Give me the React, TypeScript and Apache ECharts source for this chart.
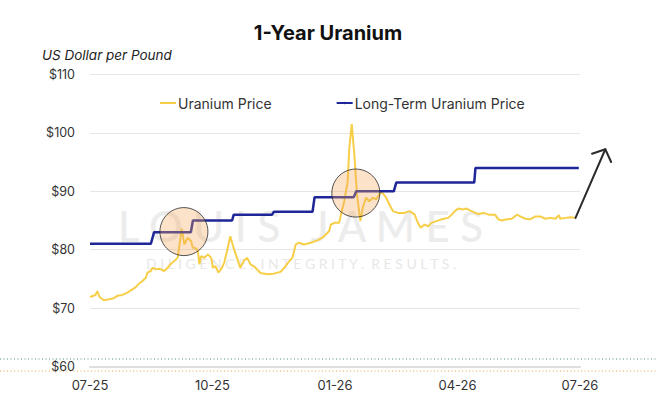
import React, { useEffect, useRef } from "react";
import * as echarts from "echarts";

// x values are months elapsed since the start of 07-25
const tickLabels = ["07-25", "10-25", "01-26", "04-26", "07-26"];

const spotMonths = [
  0, 0.135, 0.177, 0.234, 0.34, 0.463, 0.586, 0.67, 0.793, 0.916, 1.039, 1.12, 1.202, 1.286, 1.367, 1.409,
  1.49, 1.532, 1.613, 1.695, 1.818, 1.901, 1.983, 2.064, 2.148, 2.246, 2.31, 2.394, 2.475, 2.517, 2.6, 2.64,
  2.68, 2.72, 2.8, 2.887, 2.968, 3.01, 3.067, 3.148, 3.23, 3.288, 3.355, 3.436, 3.517, 3.6, 3.68, 3.764,
  3.847, 3.93, 4.01, 4.094, 4.175, 4.34, 4.5, 4.667, 4.79, 4.87, 4.956, 5.04, 5.118, 5.24, 5.406, 5.57,
  5.695, 5.776, 5.857, 5.9, 5.98, 6.1, 6.145, 6.227, 6.31, 6.35, 6.41, 6.473, 6.54, 6.62, 6.68, 6.76,
  6.84, 6.926, 7.007, 7.13, 7.254, 7.335, 7.42, 7.54, 7.7, 7.83, 7.95, 8.03, 8.1, 8.197, 8.28, 8.36,
  8.485, 8.61, 8.77, 8.855, 8.936, 9.02, 9.143, 9.22, 9.345, 9.43, 9.51, 9.635, 9.76, 9.92, 10.0, 10.086,
  10.21, 10.33, 10.456, 10.537, 10.66, 10.78, 10.906, 11.03, 11.15, 11.276, 11.4, 11.48, 11.52, 11.645, 11.77, 11.89,
];
const spotPrices = [
  71.9, 72.25, 72.9, 71.9, 71.35, 71.5, 71.7, 72.1, 72.25, 72.65, 73.2, 73.6, 74.2, 74.65, 75.2, 76.1,
  76.35, 76.9, 76.65, 76.75, 76.35, 76.9, 77.6, 78.05, 78.65, 83.6, 80.9, 82.05, 81.5, 80.35, 80.2, 79.8,
  77.5, 78.9, 78.6, 79.2, 78.6, 76.9, 77.2, 76.1, 76.9, 77.8, 79.75, 82.3, 80.3, 78.6, 76.9, 78.05,
  78.6, 77.5, 77.2, 76.6, 76.0, 75.8, 75.9, 76.2, 77.2, 77.95, 78.6, 80.9, 81.2, 80.9, 81.2, 81.6,
  82.05, 82.6, 83.2, 84.3, 84.6, 84.6, 86.0, 88.3, 91.7, 97.4, 101.5, 96.3, 89.4, 84.9, 87.2, 88.9,
  88.3, 88.9, 88.6, 90.0, 88.9, 87.7, 86.6, 86.3, 86.3, 86.6, 86.0, 84.6, 83.75, 84.3, 84.0, 84.6,
  84.9, 85.2, 85.45, 86.0, 86.6, 87.05, 86.9, 87.05, 86.6, 86.3, 86.1, 86.3, 86.0, 86.0, 85.2, 85.0,
  85.2, 85.3, 86.0, 85.7, 85.3, 85.2, 85.7, 85.7, 85.3, 85.45, 85.3, 85.9, 85.3, 85.45, 85.55, 85.45,
];

const termMonths = [0, 1.49, 1.57, 2.47, 2.52, 3.48, 3.52, 4.46, 4.5, 5.45, 5.5, 6.46, 6.52, 7.44, 7.5, 9.41, 9.44, 11.97];
const termPrices = [81, 81, 83, 83, 85, 85, 86, 86, 86.5, 86.5, 89, 89, 90, 90, 91.5, 91.5, 94, 94];

const highlightMonths = [2.3, 6.51];
const highlightPrices = [83.1, 89.7];

const arrowFrom = [11.89, 85.45];
const arrowTo = [12.62, 97.2];

const FONT = "Inter, 'Noto Sans', sans-serif";

export default function App() {
  const ref = useRef<HTMLDivElement>(null);

  useEffect(() => {
    document.body.style.margin = "0";
    if (!ref.current) return;
    const chart = echarts.init(ref.current, undefined, { renderer: "svg" });

    const spotData = spotMonths.map((m, i) => [m, spotPrices[i]]);
    const termData = termMonths.map((m, i) => [m, termPrices[i]]);
    const highlightData = highlightMonths.map((m, i) => [m, highlightPrices[i]]);

    chart.setOption({
      animation: false,
      backgroundColor: "#ffffff",
      textStyle: { fontFamily: FONT },
      title: {
        text: "1-Year Uranium",
        left: "center",
        top: 18,
        textStyle: { fontFamily: FONT, fontSize: 20, fontWeight: 700, color: "#111" },
      },
      legend: {
        data: ["Uranium Price", "Long-Term Uranium Price"],
        left: 154,
        top: 91,
        itemWidth: 16,
        itemHeight: 3,
        itemGap: 64,
        textStyle: { fontFamily: FONT, fontSize: 14, color: "#333", padding: [0, 0, 0, -3] },
      },
      grid: { left: 90, right: 76, top: 74.5, bottom: 50.5 },
      xAxis: {
        type: "value",
        min: 0,
        max: 12,
        interval: 3,
        axisLine: { show: true, lineStyle: { color: "#dedede", width: 2 } },
        axisTick: { show: false },
        splitLine: { show: false },
        axisLabel: {
          margin: 12,
          fontSize: 13,
          color: "#333",
          fontFamily: FONT,
          formatter: (v: number) => tickLabels[Math.round(v / 3)] ?? "",
        },
      },
      yAxis: {
        type: "value",
        min: 60,
        max: 110,
        interval: 10,
        axisLine: { show: false },
        axisTick: { show: false },
        splitLine: { lineStyle: { color: "#e6e6e6", width: 1 } },
        axisLabel: {
          margin: 15,
          fontSize: 12.5,
          color: "#333",
          fontFamily: FONT,
          formatter: (v: number) => "$" + v,
        },
      },
      graphic: [
        {
          type: "text",
          id: "wm1",
          left: 118,
          top: 205,
          z: -10,
          silent: true,
          style: {
            text: "L O U I S   J A M E S",
            fontFamily: "Lato, sans-serif",
            fontSize: 42,
            fontWeight: 500,
            fill: "#ececec",
          },
        },
        {
          type: "text",
          id: "wm2",
          left: 146,
          top: 256,
          z: -10,
          silent: true,
          style: {
            text: "D I L I G E N C E .  I N T E G R I T Y .  R E S U L T S .",
            fontFamily: "Lato, sans-serif",
            fontSize: 14,
            fill: "#e8e8e8",
          },
        },
        {
          type: "text",
          id: "yname",
          left: 42,
          top: 48,
          style: {
            text: "US Dollar per Pound",
            fontFamily: FONT,
            fontSize: 13.5,
            fontStyle: "italic",
            fill: "#222",
          },
        },
        {
          type: "line",
          id: "dot1",
          silent: true,
          shape: { x1: 0, y1: 359, x2: 656, y2: 359 },
          style: { stroke: "#4c8f86", lineWidth: 1, lineDash: [1, 2.5] },
        },
        {
          type: "line",
          id: "dot2",
          silent: true,
          shape: { x1: 0, y1: 371, x2: 656, y2: 371 },
          style: { stroke: "#e2a650", lineWidth: 1, lineDash: [1, 2.5] },
        },
      ],
      series: [
        {
          name: "Uranium Price",
          type: "line",
          data: spotData,
          symbol: "none",
          z: 2,
          lineStyle: { color: "#F6CE48", width: 2 },
          itemStyle: { color: "#F6CE48" },
        },
        {
          name: "Long-Term Uranium Price",
          type: "line",
          data: termData,
          symbol: "none",
          z: 3,
          lineStyle: { color: "#1F2698", width: 2.5 },
          itemStyle: { color: "#1F2698" },
        },
        {
          name: "highlight",
          type: "scatter",
          data: highlightData,
          symbolSize: 48,
          silent: true,
          z: 5,
          itemStyle: { color: "rgba(243,168,92,0.42)", borderColor: "#2a2a2a", borderWidth: 1 },
        },
      ],
    });

    const a = chart.convertToPixel({ gridIndex: 0 }, arrowFrom) as number[];
    const b = chart.convertToPixel({ gridIndex: 0 }, arrowTo) as number[];
    const dx = a[0] - b[0];
    const dy = a[1] - b[1];
    const len = Math.hypot(dx, dy);
    const ux = dx / len;
    const uy = dy / len;
    const wing = 14;
    const th = (48 * Math.PI) / 180;
    const rot = (t: number) => [
      b[0] + wing * (ux * Math.cos(t) - uy * Math.sin(t)),
      b[1] + wing * (ux * Math.sin(t) + uy * Math.cos(t)),
    ];
    const w1 = rot(th);
    const w2 = rot(-th);
    chart.setOption({
      graphic: [
        {
          type: "line",
          id: "arrowShaft",
          z: 10,
          silent: true,
          shape: { x1: a[0], y1: a[1], x2: b[0], y2: b[1] },
          style: { stroke: "#2b2b2b", lineWidth: 2, lineCap: "round" },
        },
        {
          type: "polyline",
          id: "arrowHead",
          z: 10,
          silent: true,
          shape: { points: [w1, [b[0], b[1]], w2] },
          style: { stroke: "#2b2b2b", lineWidth: 2, fill: null, lineCap: "round", lineJoin: "round" },
        },
      ],
    });

    return () => chart.dispose();
  }, []);

  return <div ref={ref} style={{ width: 656, height: 417 }} />;
}
